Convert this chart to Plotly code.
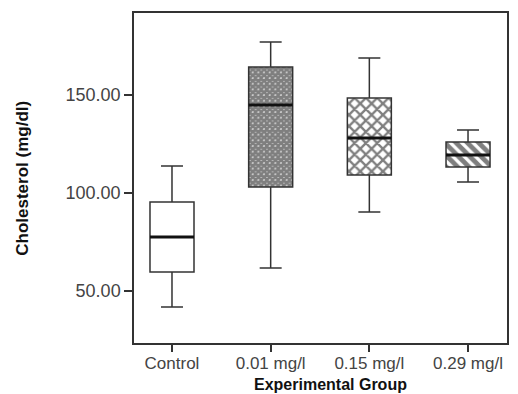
import plotly.graph_objects as go

groups = ["Control", "0.01 mg/l", "0.15 mg/l", "0.29 mg/l"]
lower_whisker = [41.8, 61.7, 90.3, 105.6]
q1 = [59.7, 103.0, 109.2, 113.3]
median = [77.6, 144.9, 128.1, 119.4]
q3 = [95.4, 164.3, 148.5, 126.0]
upper_whisker = [113.8, 177.0, 168.9, 132.1]
y_tick_values = [0, 50, 100, 150, 200]
y_tick_labels = [".00", "50.00", "100.00", "150.00", "200.00"]

patterns = [
    dict(shape="", solidity=0),
    dict(shape="x", size=4, solidity=0.9, fgcolor="#000", bgcolor="white"),
    dict(shape="x", size=8, solidity=0.5, fgcolor="#000", bgcolor="white"),
    dict(shape="\\", size=8, solidity=0.6, fgcolor="#000", bgcolor="white"),
]

xpos = list(range(len(groups)))
box_w = 0.446
line_col = "#333333"

fig = go.Figure()

for i in xpos:
    fig.add_trace(go.Bar(
        x=[xpos[i]], base=[q1[i]], y=[q3[i] - q1[i]], width=box_w,
        marker=dict(color="white", line=dict(width=0), pattern=patterns[i]),
        showlegend=False, hoverinfo="skip",
    ))

fig.add_trace(go.Box(
    x=xpos, q1=q1, median=median, q3=q3,
    lowerfence=lower_whisker, upperfence=upper_whisker,
    width=box_w, whiskerwidth=0.5,
    fillcolor="rgba(0,0,0,0)",
    line=dict(color=line_col, width=1.5),
    boxpoints=False, showlegend=False,
))

for i in xpos:
    fig.add_trace(go.Scatter(
        x=[xpos[i] - box_w / 2, xpos[i] + box_w / 2], y=[median[i], median[i]],
        mode="lines", line=dict(color="#111111", width=3),
        showlegend=False, hoverinfo="skip",
    ))

fig.update_layout(
    width=518, height=394,
    margin=dict(l=134, r=11, t=13, b=51, autoexpand=False),
    paper_bgcolor="white", plot_bgcolor="white",
    barmode="overlay", boxmode="overlay",
    font=dict(family="Liberation Sans, Arial, sans-serif", color="#444444"),
    annotations=[
        dict(text="<b>Experimental Group</b>", xref="paper", yref="paper",
             x=0.526, y=-0.155, xanchor="center", yanchor="bottom",
             showarrow=False, borderpad=0, font=dict(size=16, color="#111111")),
        dict(text="<b>Cholesterol (mg/dl)</b>", xref="paper", yref="paper",
             x=-0.301, y=0.5, xanchor="center", yanchor="middle", textangle=-90,
             showarrow=False, font=dict(size=17, color="#111111")),
    ],
)

fig.update_xaxes(
    range=[-0.385, 3.395], automargin=False,
    tickmode="array", tickvals=xpos, ticktext=groups,
    tickfont=dict(size=17, color="#444444"), ticklabelstandoff=-3,
    ticks="outside", ticklen=7, tickwidth=1.5, tickcolor=line_col,
    showline=True, linecolor=line_col, linewidth=1.5, mirror=True,
    showgrid=False, zeroline=False,
)

fig.update_yaxes(
    range=[23.5, 191.8], automargin=False,
    tickmode="array", tickvals=y_tick_values, ticktext=y_tick_labels,
    tickfont=dict(size=18, color="#444444"),
    ticks="outside", ticklen=8, tickwidth=1.5, tickcolor=line_col,
    showline=True, linecolor=line_col, linewidth=1.5, mirror=True,
    showgrid=False, zeroline=False,
)

fig.write_html("out.html", config={"displayModeBar": False},
               post_script="document.body.style.margin='0';")
